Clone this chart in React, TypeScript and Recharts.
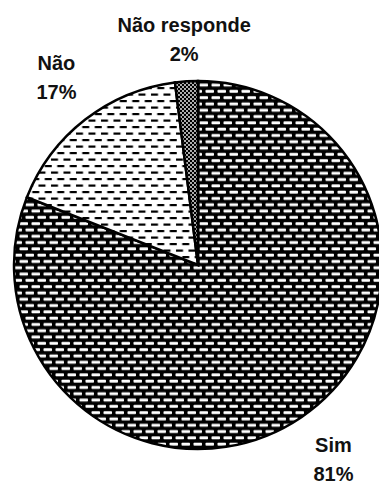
import { PieChart, Pie, Cell } from 'recharts'

const categories = ['Sim', 'Não', 'Não responde']
const shares = [81, 17, 2]
const fills = ['url(#bricks)', 'url(#dashes)', 'url(#dots)']
// how far each label sits outside the rim
const labelGap = [57, 47, 37]

const data = categories.map((name, i) => ({ name, value: shares[i] }))

const RAD = Math.PI / 180

const renderLabel = (props: any) => {
  const { cx, cy, midAngle, outerRadius, name, value, index } = props
  const r = outerRadius + labelGap[index]
  const x = cx + r * Math.cos(-midAngle * RAD)
  const y = cy + r * Math.sin(-midAngle * RAD)
  return (
    <text
      x={x}
      y={y}
      textAnchor="middle"
      fontFamily="'Liberation Sans', Arial, sans-serif"
      fontWeight="bold"
      fontSize={20}
      fill="#111"
    >
      <tspan x={x} dy={-12}>{name}</tspan>
      <tspan x={x} dy={29}>{value}%</tspan>
    </text>
  )
}

export default function App() {
  return (
    <div style={{ position: 'absolute', left: 0, top: 0, background: '#fff' }}>
      <PieChart width={379} height={484}>
        <defs>
          <pattern id="bricks" patternUnits="userSpaceOnUse" width={12} height={12.6}>
            <rect width={12} height={12.6} fill="#000" />
            <rect x={1.5} y={1.6} width={8.5} height={3} rx={0.8} fill="#fff" />
            <rect x={7.5} y={7.9} width={8.5} height={3} rx={0.8} fill="#fff" />
            <rect x={-4.5} y={7.9} width={8.5} height={3} rx={0.8} fill="#fff" />
          </pattern>
          <pattern id="dashes" patternUnits="userSpaceOnUse" width={12.5} height={13}>
            <rect width={12.5} height={13} fill="#fff" />
            <rect x={1} y={2.5} width={7} height={2.2} fill="#000" />
            <rect x={7.25} y={9} width={7} height={2.2} fill="#000" />
            <rect x={-5.25} y={9} width={7} height={2.2} fill="#000" />
          </pattern>
          <pattern id="dots" patternUnits="userSpaceOnUse" width={4} height={4}>
            <rect width={4} height={4} fill="#000" />
            <circle cx={1} cy={1} r={0.9} fill="#fff" />
            <circle cx={3} cy={3} r={0.9} fill="#fff" />
          </pattern>
        </defs>
        <Pie
          data={data}
          dataKey="value"
          nameKey="name"
          cx={193}
          cy={260}
          outerRadius={184}
          startAngle={90}
          endAngle={-270}
          stroke="#000"
          strokeWidth={2.5}
          label={renderLabel}
          labelLine={false}
          isAnimationActive={false}
        >
          {data.map((d, i) => (
            <Cell key={d.name} fill={fills[i]} />
          ))}
        </Pie>
      </PieChart>
    </div>
  )
}
